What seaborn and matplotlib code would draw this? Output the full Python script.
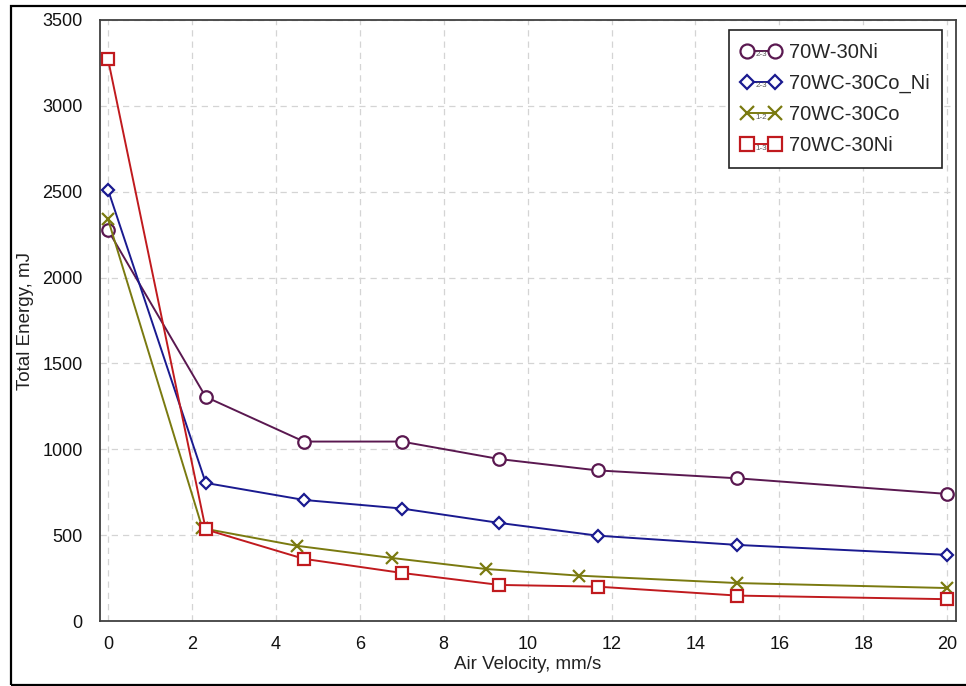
import numpy as np
import pandas as pd
import seaborn as sns
import matplotlib
matplotlib.use("Agg")
import matplotlib.pyplot as plt
from matplotlib.legend_handler import HandlerLine2D
from matplotlib.text import Text
from matplotlib.patches import Rectangle

# ---- data ----
names = ["70W-30Ni", "70WC-30Co_Ni", "70WC-30Co", "70WC-30Ni"]
x_w_ni = [0, 2.33, 4.67, 7.0, 9.33, 11.67, 15, 20]
y_w_ni = [2277, 1305, 1045, 1045, 943, 877, 831, 740]
x_wc_cont = [0, 2.33, 4.67, 7.0, 9.33, 11.67, 15, 20]
y_wc_cont = [2512, 804, 705, 655, 571, 497, 443, 385]
x_wc_co = [0, 2.25, 4.5, 6.77, 9.0, 11.23, 15, 20]
y_wc_co = [2341, 540, 438, 367, 303, 264, 221, 192]
x_wc_ni = [0, 2.33, 4.67, 7.0, 9.33, 11.67, 15, 20]
y_wc_ni = [3273, 533, 362, 280, 210, 200, 148, 127]
tags = ["2-3", "2-3", "1-2", "1-3"]
x_ticks = [0, 2, 4, 6, 8, 10, 12, 14, 16, 18, 20]
y_ticks = [0, 500, 1000, 1500, 2000, 2500, 3000, 3500]

xs = [x_w_ni, x_wc_cont, x_wc_co, x_wc_ni]
ys = [y_w_ni, y_wc_cont, y_wc_co, y_wc_ni]
colors = ["#5a1850", "#1a1a90", "#7a7a10", "#c01a1e"]
markers = ["o", "D", "x", "s"]
msizes = [9, 6.5, 9, 8.5]

sns.set_style("white")
plt.rcParams["font.family"] = ["Liberation Sans", "DejaVu Sans"]

fig = plt.figure(figsize=(9.66, 6.86), dpi=100)
ax = fig.add_axes([100 / 966, 65 / 686, 856 / 966, 601 / 686])

for name, xv, yv, c, m, ms in zip(names, xs, ys, colors, markers, msizes):
    df = pd.DataFrame({"x": xv, "y": yv})
    sns.lineplot(data=df, x="x", y="y", ax=ax, color=c, marker=m, ms=ms,
                 mfc="white", mec=c, mew=1.6, lw=1.4, label=name,
                 sort=False, zorder=3)

ax.set_xlim(-0.19, 20.21)
ax.set_ylim(0, 3500)
ax.set_xticks(x_ticks)
ax.set_yticks(y_ticks)
ax.tick_params(axis="both", direction="out", length=6, width=1.2,
               color="#404040", labelsize=13, labelcolor="#111111")
ax.tick_params(axis="y", pad=6.5)
ax.tick_params(axis="x", pad=5)
ax.grid(True, ls=(0, (5, 4)), color="#d4d4d4", lw=0.9)
ax.set_axisbelow(True)
for s in ax.spines.values():
    s.set_visible(True)
    s.set_color("#404040")
    s.set_linewidth(1.3)
ax.set_xlabel("Air Velocity, mm/s", fontsize=13.5, color="#222222", labelpad=2)
ax.set_ylabel("Total Energy, mJ", fontsize=13.5, color="#222222", labelpad=6)


class TaggedHandler(HandlerLine2D):
    def __init__(self, tag, color, **kw):
        super().__init__(numpoints=2, **kw)
        self.tag = tag
        self.tcolor = color

    def create_artists(self, legend, orig_handle, xdescent, ydescent, width,
                       height, fontsize, trans):
        arts = super().create_artists(legend, orig_handle, xdescent, ydescent,
                                      width, height, fontsize, trans)
        t = Text(width / 2 - xdescent, height / 2 - ydescent - 0.5, self.tag,
                 fontsize=fontsize * 0.4, ha="center", va="top",
                 color="#555555", transform=trans)
        return list(arts) + [t]


handles, labels = ax.get_legend_handles_labels()
hmap = {h: TaggedHandler(t, c) for h, t, c in zip(handles, tags, colors)}
leg = ax.legend(handles, labels, handler_map=hmap, loc="upper right",
                bbox_to_anchor=(0.9836, 0.983), fontsize=14.5, frameon=True,
                fancybox=False, edgecolor="#222222", framealpha=1,
                handlelength=1.95, handletextpad=0.4, labelspacing=0.6,
                borderpad=0.62, borderaxespad=0, markerscale=1.12)
leg.get_frame().set_linewidth(1.2)

fig.add_artist(Rectangle((11 / 966, 1 / 686), 1.0, 679 / 686,
                         transform=fig.transFigure, fill=False,
                         ec="black", lw=1.6, clip_on=False))

fig.savefig("out.png", dpi=100, facecolor="white")
